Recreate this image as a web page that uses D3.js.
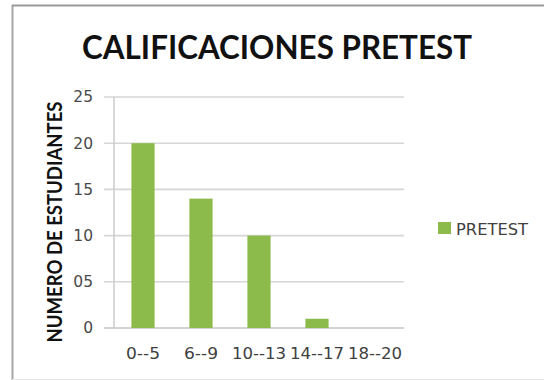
<!DOCTYPE html>
<html>
<head>
<meta charset="utf-8">
<script src="https://cdn.jsdelivr.net/npm/d3@7"></script>
<style>
  body { margin: 0; background: #fff; }
  svg { display: block; }
</style>
</head>
<body>
<svg id="chart" width="544" height="380"></svg>
<script>
// data
const categories = ["0--5", "6--9", "10--13", "14--17", "18--20"];
const pretest = [20, 14, 10, 1, 0];
const yTicks = [0, 5, 10, 15, 20, 25];
const yTickLabels = ["0", "05", "10", "15", "20", "25"];

const svg = d3.select("#chart");

// frame of the chart area (left, top, bottom edges visible)
svg.append("line").attr("x1", 12.5).attr("x2", 12.5).attr("y1", 5).attr("y2", 380)
  .attr("stroke", "#a6a6a6").attr("stroke-width", 2);
svg.append("line").attr("x1", 12).attr("x2", 544).attr("y1", 5.5).attr("y2", 5.5)
  .attr("stroke", "#9a9a9a").attr("stroke-width", 2);
svg.append("line").attr("x1", 12).attr("x2", 544).attr("y1", 379.5).attr("y2", 379.5)
  .attr("stroke", "#e6e6e6").attr("stroke-width", 1);

const plot = { left: 114, right: 404, top: 97, bottom: 328 };

const x = d3.scaleBand()
  .domain(categories)
  .range([plot.left, plot.right])
  .paddingInner(0.6)
  .paddingOuter(0.3);

const y = d3.scaleLinear()
  .domain([0, 25])
  .range([plot.bottom, plot.top]);

// gridlines
svg.append("g")
  .selectAll("line")
  .data(yTicks)
  .join("line")
  .attr("x1", plot.left - 10)
  .attr("x2", plot.right)
  .attr("y1", (d) => y(d))
  .attr("y2", (d) => y(d))
  .attr("stroke", (d) => (d === 0 ? "#c4c4c4" : "#d6d6d6"))
  .attr("stroke-width", 1.6);

// y axis line
svg.append("line")
  .attr("x1", plot.left).attr("x2", plot.left)
  .attr("y1", plot.top).attr("y2", plot.bottom)
  .attr("stroke", "#cfcfcf").attr("stroke-width", 1.6);

// y axis labels
const yAxis = d3.axisLeft(y)
  .tickValues(yTicks)
  .tickSize(0)
  .tickPadding(21)
  .tickFormat((d, i) => yTickLabels[i]);

svg.append("g")
  .attr("transform", `translate(${plot.left},0)`)
  .call(yAxis)
  .call((g) => g.select(".domain").remove())
  .selectAll("text")
  .attr("font-family", "'DejaVu Sans', sans-serif")
  .attr("font-size", 15.5)
  .attr("fill", "#4a4a4a");

// x axis labels
const xAxis = d3.axisBottom(x).tickSize(0).tickPadding(20);
svg.append("g")
  .attr("transform", `translate(0,${plot.bottom})`)
  .call(xAxis)
  .call((g) => g.select(".domain").remove())
  .selectAll("text")
  .attr("font-family", "'DejaVu Sans', sans-serif")
  .attr("font-size", 16)
  .attr("fill", "#404040")
  .attr("textLength", (d) => (d.length > 4 ? 54 : 34))
  .attr("lengthAdjust", "spacingAndGlyphs");

// bars
svg.append("g")
  .selectAll("rect")
  .data(pretest)
  .join("rect")
  .attr("x", (d, i) => x(categories[i]))
  .attr("y", (d) => y(d))
  .attr("width", x.bandwidth())
  .attr("height", (d) => y(0) - y(d))
  .attr("fill", "#8cbb4c");

// title
svg.append("text")
  .attr("x", 277)
  .attr("y", 59)
  .attr("text-anchor", "middle")
  .attr("font-family", "Lato, 'Open Sans', sans-serif")
  .attr("font-weight", "bold")
  .attr("font-size", 33)
  .attr("textLength", 390)
  .attr("lengthAdjust", "spacingAndGlyphs")
  .attr("fill", "#111")
  .text("CALIFICACIONES PRETEST");

// y axis title
svg.append("text")
  .attr("transform", "translate(62,222) rotate(-90)")
  .attr("text-anchor", "middle")
  .attr("font-family", "Lato, 'Open Sans', sans-serif")
  .attr("font-weight", "bold")
  .attr("font-size", 21)
  .attr("textLength", 241)
  .attr("lengthAdjust", "spacingAndGlyphs")
  .attr("fill", "#111")
  .text("NUMERO DE ESTUDIANTES");

// legend
const legend = svg.append("g").attr("transform", "translate(438,222)");
legend.append("rect")
  .attr("width", 13).attr("height", 12)
  .attr("fill", "#8cbb4c");
legend.append("text")
  .attr("x", 18)
  .attr("y", 12.5)
  .attr("font-family", "'DejaVu Sans', sans-serif")
  .attr("font-size", 15)
  .attr("textLength", 72)
  .attr("lengthAdjust", "spacingAndGlyphs")
  .attr("fill", "#404040")
  .text("PRETEST");
</script>
</body>
</html>
